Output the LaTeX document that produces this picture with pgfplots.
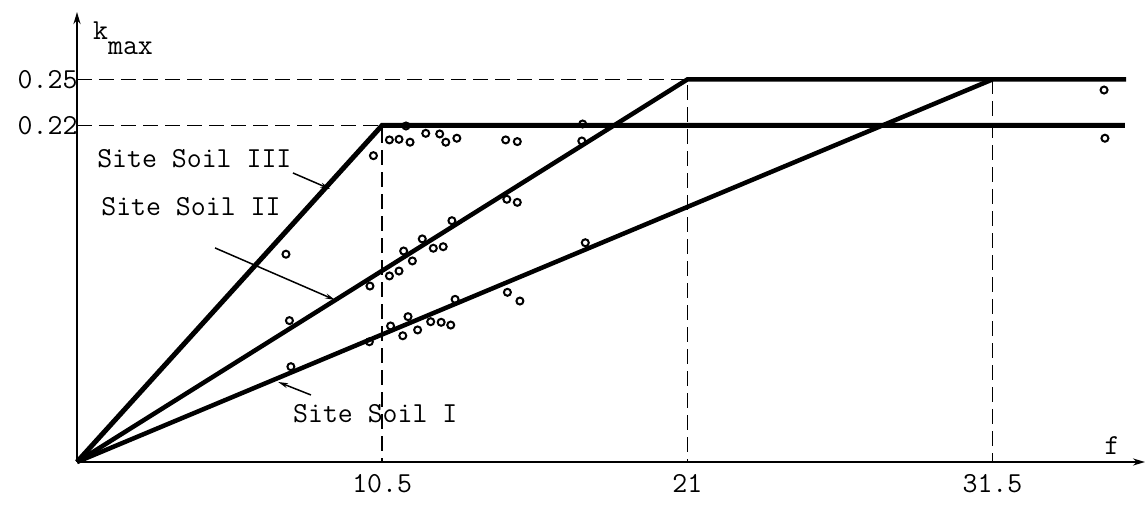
\documentclass[border=0pt]{standalone}
\usepackage{fontspec}
\usepackage{pgfplots}
\usepackage{pgfplotstable}
\pgfplotsset{compat=1.18}
\usetikzlibrary{arrows.meta}
\pgfplotstableread{
x y
11.32 0.2196
10.75 0.2105
11.08 0.2109
11.46 0.2090
12.00 0.2148
12.48 0.2144
12.69 0.2090
13.07 0.2116
14.75 0.2105
15.15 0.2094
10.20 0.2002
7.19 0.1358
7.31 0.0924
10.08 0.1150
10.75 0.1216
11.08 0.1248
11.54 0.1314
11.24 0.1379
11.88 0.1458
12.26 0.1397
12.60 0.1407
12.90 0.1577
14.79 0.1717
15.15 0.1697
13.01 0.1063
14.81 0.1109
15.24 0.1052
10.79 0.0889
11.39 0.0950
11.21 0.0825
11.72 0.0863
12.17 0.0917
12.53 0.0913
12.86 0.0895
10.06 0.0786
7.36 0.0623
17.40 0.2209
17.37 0.2098
17.49 0.1433
35.34 0.2431
35.37 0.2116
}\scatterdata
\newcommand{\lab}{\ttfamily\fontsize{29}{34}\selectfont}
\begin{document}
\begin{tikzpicture}
\useasboundingbox (-77pt,-43pt) rectangle (1070pt,462pt);
\begin{axis}[
  scale only axis, width=1068pt, height=450pt,
  xmin=0, xmax=36.75, ymin=0, ymax=0.2941,
  axis lines=left,
  axis line style={line width=2.5pt,-{Stealth[length=12pt,width=7pt]}},
  xtick={10.5,21,31.5}, xticklabels={10.5,21,31.5},
  ytick={0.22,0.25}, yticklabels={0.22,0.25},
  major tick length=0pt,
  tick label style={font=\lab},
  xticklabel style={yshift=-9pt},
  yticklabel style={xshift=4pt},
  clip=false,
]
% dashed guides
\addplot[black, line width=1.5pt, dash pattern=on 15pt off 7pt] coordinates {(0,0.25) (21,0.25) (21,0)};
\addplot[black, line width=1.5pt, dash pattern=on 15pt off 7pt] coordinates {(0,0.22) (10.5,0.22) (10.5,0)};
\addplot[black, line width=1.5pt, dash pattern=on 15pt off 7pt] coordinates {(31.5,0.25) (31.5,0)};
% main lines
\addplot[black, line width=5pt] coordinates {(0,0) (10.5,0.22) (36.06,0.22)};
\addplot[black, line width=4.5pt] coordinates {(0,0) (21,0.25) (36.1,0.25)};
\addplot[black, line width=4.5pt] coordinates {(0,0) (31.5,0.25)};
% data points
\addplot[only marks, mark=o, mark size=3.5pt, mark options={line width=2pt, black, fill=white}] table {\scatterdata};
% labels
\node[anchor=base west, inner sep=0, font=\lab] at (axis cs:0.69,0.1922) {Site Soil III};
\node[anchor=base west, inner sep=0, font=\lab] at (axis cs:0.83,0.1614) {Site Soil II};
\node[anchor=base west, inner sep=0, font=\lab] at (axis cs:7.43,0.0255) {Site Soil I};
\node[anchor=base west, inner sep=0, font=\lab] at (axis cs:0.55,0.2758) {k\raisebox{-15pt}{max}};
\node[anchor=base, inner sep=0, font=\lab] at (axis cs:35.62,0.0046) {f};
\draw[line width=1.5pt, -{Stealth[length=10pt,width=5pt]}] (axis cs:7.43,0.1889) -- (axis cs:8.71,0.1784);
\draw[line width=1.5pt, -{Stealth[length=10pt,width=5pt]}] (axis cs:4.75,0.1399) -- (axis cs:8.88,0.1059);
\draw[line width=1.5pt, -{Stealth[length=10pt,width=5pt]}] (axis cs:8.05,0.0438) -- (axis cs:6.92,0.0523);
\end{axis}
\end{tikzpicture}
\end{document}
